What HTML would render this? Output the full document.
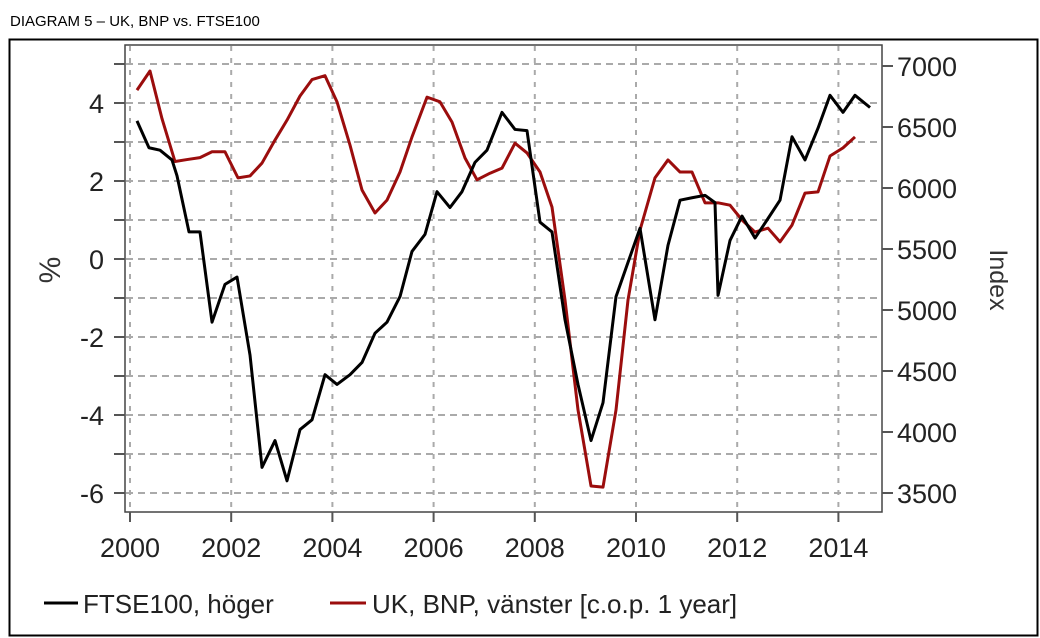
<!DOCTYPE html>
<html><head><meta charset="utf-8"><style>
body{margin:0;background:#fff;width:1040px;height:638px;overflow:hidden;font-family:"Liberation Sans",sans-serif}
svg{position:absolute;left:0;top:0}
</style></head><body>
<svg width="1040" height="638">
<text x="10" y="26" font-size="15" fill="#000">DIAGRAM 5 – UK, BNP vs. FTSE100</text>
<rect x="9.5" y="39.5" width="1028" height="596" fill="none" stroke="#000" stroke-width="2"/>
<g id="grid"></g>
<g id="series"></g>
<rect x="125" y="45" width="757" height="467" fill="none" stroke="#444" stroke-width="1.5"/>
<g id="axes"></g>
<text transform="translate(60,270) rotate(-90)" font-size="30" text-anchor="middle" fill="#333">%</text>
<text transform="translate(990,280) rotate(90)" font-size="25" text-anchor="middle" fill="#333">Index</text>
<g>
<line x1="44" y1="603" x2="78" y2="603" stroke="#000" stroke-width="3"/>
<text x="83" y="613" font-size="26" fill="#222">FTSE100, höger</text>
<line x1="330" y1="603" x2="366" y2="603" stroke="#9b0d0d" stroke-width="3"/>
<text x="372" y="613" font-size="26" fill="#222">UK, BNP, vänster [c.o.p. 1 year]</text>
</g>
</svg>
<script>
const ftseX=[137,149,160,172,177,189,200,212,225,237,250,262,275,287,300,312,325,337,350,362,375,387,400,412,425,437,450,462,475,487,502,515,527,540,552,565,578,591,603,616,628,640,655,668,680,692,705,715,718,730,742,755,768,780,792,805,818,830,843,855,870].map(x=>+(2000+(x-130)/50.6).toFixed(3));
const ftseValues=[6550,6330,6310,6230,6100,5640,5640,4900,5210,5270,4630,3710,3930,3600,4020,4100,4470,4390,4470,4570,4810,4900,5110,5480,5620,5970,5840,5970,6210,6310,6620,6480,6470,5720,5640,4920,4390,3930,4240,5110,5390,5670,4920,5530,5900,5920,5940,5880,5120,5570,5770,5590,5750,5900,6420,6230,6490,6760,6620,6760,6660];
const gdpX=[137,150,162,175,187,200,212,225,238,250,262,275,287,300,312,325,337,350,362,375,387,400,412,427,440,452,465,477,490,502,515,527,540,552,565,578,591,603,616,628,640,655,668,680,692,705,718,730,742,755,768,780,792,805,818,830,843,855].map(x=>+(2000+(x-130)/50.6).toFixed(3));
const gdpValues=[4.33,4.82,3.6,2.5,2.55,2.6,2.75,2.75,2.08,2.13,2.46,3.05,3.56,4.18,4.6,4.7,4.03,2.92,1.77,1.18,1.51,2.23,3.13,4.15,4.03,3.51,2.59,2.03,2.2,2.33,2.97,2.72,2.23,1.33,-1.05,-3.87,-5.82,-5.85,-3.87,-1.05,0.74,2.08,2.54,2.23,2.23,1.44,1.44,1.38,1.0,0.69,0.79,0.44,0.87,1.69,1.72,2.64,2.85,3.13];
const xTicks=[2000,2002,2004,2006,2008,2010,2012,2014];
const leftTicks=[-6,-4,-2,0,2,4];
const rightTicks=[3500,4000,4500,5000,5500,6000,6500,7000];

const NS="http://www.w3.org/2000/svg";
const xs=y=>130+(y-2000)*50.6;
const yl=v=>259-v*39;
const yr=v=>493-(v-3500)/500*61;
function mk(t,a,p){const e=document.createElementNS(NS,t);for(const k in a)e.setAttribute(k,a[k]);p.appendChild(e);return e;}
const grid=document.getElementById('grid'),axes=document.getElementById('axes'),ser=document.getElementById('series');
for(let v=-6;v<=5;v++){const l=mk('line',{x1:126,x2:881,y1:yl(v),y2:yl(v),stroke:'#aaa','stroke-width':2,'stroke-dasharray':'7 5'},grid);


const t=mk('line',{x1:114,x2:125,y1:yl(v),y2:yl(v),stroke:'#555','stroke-width':2},axes);

}
xTicks.forEach(y=>{const l=mk('line',{x1:xs(y),x2:xs(y),y1:46,y2:511,stroke:'#aaa','stroke-width':2,'stroke-dasharray':'5 7'},grid);


const t=mk('line',{x1:xs(y),x2:xs(y),y1:512,y2:522,stroke:'#555','stroke-width':2},axes);


const tx=mk('text',{x:xs(y),y:557,'font-size':27,'text-anchor':'middle',fill:'#222'},axes);tx.textContent=y;

});
leftTicks.forEach(v=>{const tx=mk('text',{x:104,y:yl(v)+10,'font-size':27,'text-anchor':'end',fill:'#222'},axes);tx.textContent=v;

});
rightTicks.forEach(v=>{const t=mk('line',{x1:882,x2:893,y1:yr(v),y2:yr(v),stroke:'#555','stroke-width':2},axes);


const tx=mk('text',{x:897,y:yr(v)+10,'font-size':27,fill:'#222'},axes);tx.textContent=v;

});
const g=mk('polyline',{points:gdpX.map((x,i)=>xs(x)+','+yl(gdpValues[i])).join(' '),fill:'none',stroke:'#9b0d0d','stroke-width':3,'stroke-linejoin':'round'},ser);


const f=mk('polyline',{points:ftseX.map((x,i)=>xs(x)+','+yr(ftseValues[i])).join(' '),fill:'none',stroke:'#000','stroke-width':3,'stroke-linejoin':'round'},ser);


</script>
</body></html>
